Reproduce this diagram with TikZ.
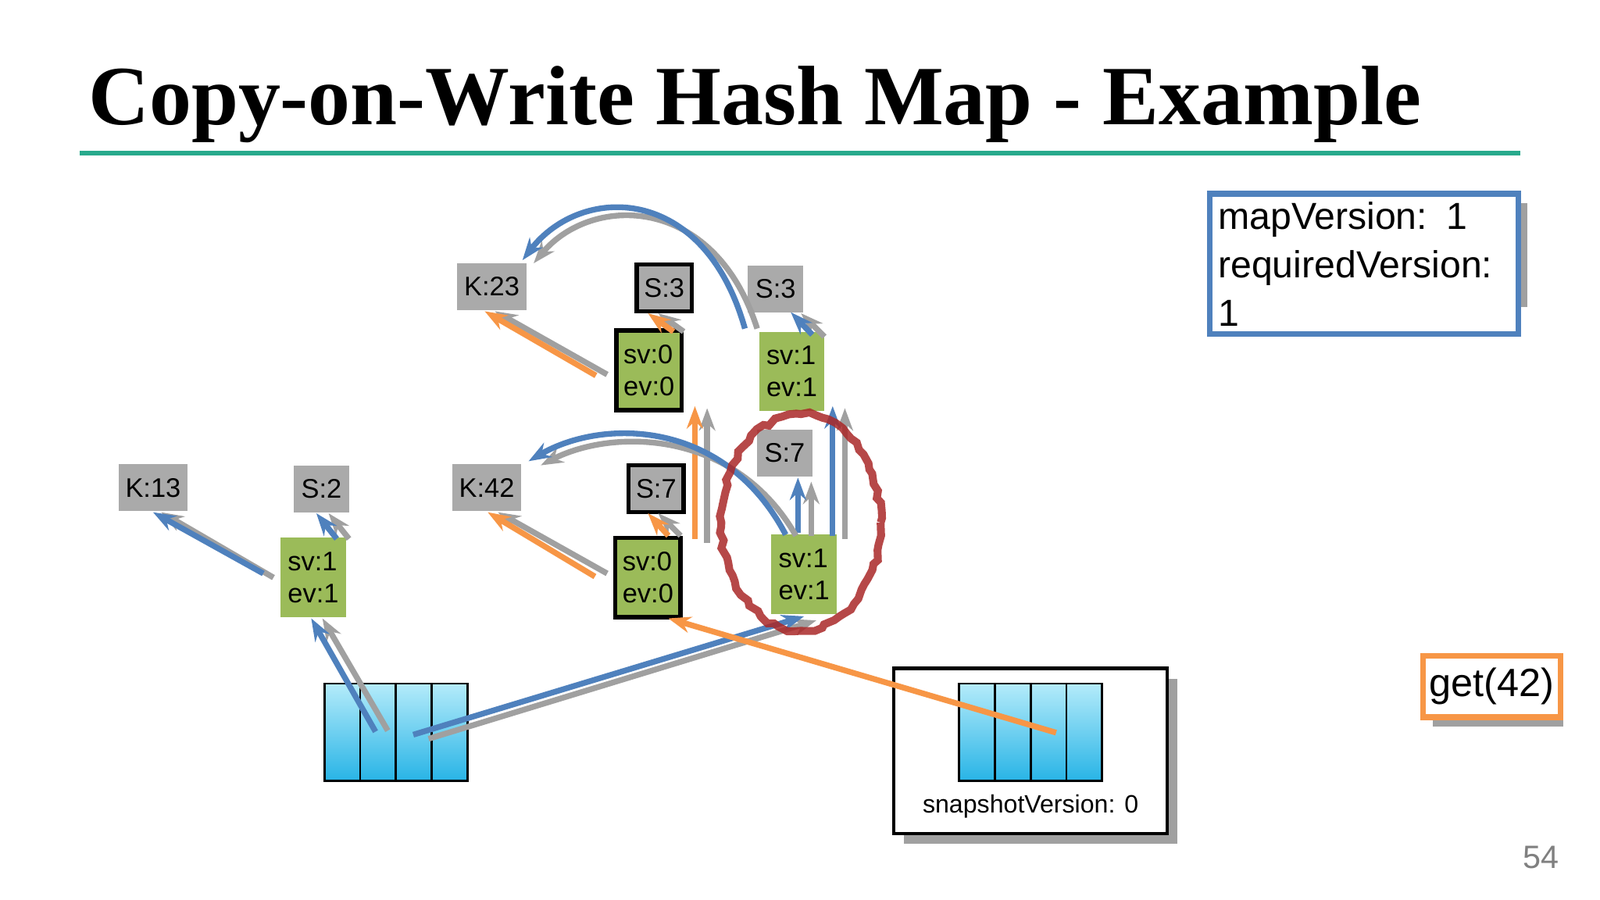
\documentclass[tikz,border=0pt]{standalone}
\usepackage{fontspec}
\setmainfont{Liberation Sans}
\newfontfamily\titlefont{Liberation Serif}
\usetikzlibrary{calc,arrows.meta,decorations.pathmorphing}
\definecolor{ggreen}{RGB}{155,187,89}
\definecolor{gboxc}{RGB}{170,170,170}
\definecolor{bl}{RGB}{79,129,189}
\definecolor{org}{RGB}{247,150,70}
\definecolor{gl}{RGB}{160,160,160}
\definecolor{teal1}{RGB}{40,170,140}
\definecolor{cyL}{RGB}{180,235,250}
\definecolor{cyD}{RGB}{40,180,230}
\definecolor{dred}{RGB}{170,40,40}
\begin{document}
\begin{tikzpicture}[x=0.1mm,y=-0.1mm,
  lab/.style={font=\fontsize{7.5pt}{9pt}\selectfont,inner sep=0pt,align=left},
  gk/.style={lab,fill=gboxc,minimum width=6.8mm,minimum height=4.6mm},
  gs/.style={lab,fill=gboxc,minimum width=5.4mm,minimum height=4.6mm},
  gsb/.style={gs,draw=black,line width=1.2pt},
  gr/.style={lab,fill=ggreen,minimum width=6.4mm,minimum height=7.8mm},
  grb/.style={gr,draw=black,line width=1.2pt},
  ba/.style={draw=bl,line width=1.6pt,-{Stealth[length=2.2mm,width=1.6mm]}},
  ga/.style={draw=gl,line width=1.6pt,-{Stealth[length=2.2mm,width=1.6mm]}},
  oa/.style={draw=org,line width=1.6pt,-{Stealth[length=2.2mm,width=1.6mm]}},
  arr/.style={top color=cyL,bottom color=cyD,draw=black,line width=0.6pt}]
\useasboundingbox (0,0) rectangle (1568,882);
\fill[white] (0,0) rectangle (1568,882);
% title
\node[anchor=base west,inner sep=0pt,font=\titlefont\bfseries\fontsize{23.5pt}{27pt}\selectfont] (title) at (86,122) {Copy-on-Write Hash Map - Example};
\draw[teal1,line width=1.4pt] (78,150) -- (1490,150);
% version box
\fill[gl] (1195,199) rectangle (1497,301);
\node[draw=bl,line width=1.6pt,fill=white,anchor=north west,minimum width=30.2mm,minimum height=10.2mm,text width=28.6mm,inner sep=0.8mm,align=left,font=\fontsize{10.5pt}{13.5pt}\selectfont] (ver) at (1183,187) {mapVersion: 1\\requiredVersion: 1};
% boxes
\node[gk] (k23) at (482,281) {K:23};
\node[gsb] (s3a) at (651,282) {S:3};
\node[gs] (s3b) at (760,283) {S:3};
\node[grb] (g1) at (636,363) {sv:0\\ev:0};
\node[gr] (g2) at (776,364) {sv:1\\ev:1};
\node[gk] (k13) at (150,478) {K:13};
\node[gs] (s2) at (315,479) {S:2};
\node[gk] (k42) at (477,478) {K:42};
\node[gsb] (s7a) at (643,479) {S:7};
\node[gs] (s7b) at (769,444) {S:7};
\node[gr] (g3) at (307,566) {sv:1\\ev:1};
\node[grb] (g4) at (635,566) {sv:0\\ev:0};
\node[gr] (g5) at (788,563) {sv:1\\ev:1};
% left array
\foreach \i in {0,1,2,3}{\draw[arr] (318+35*\i,670) rectangle (353+35*\i,765);}
% snapshot box
\fill[gl] (886,665) rectangle (1154,827);
\node[draw=black,line width=1pt,fill=white,anchor=north west,minimum width=26.8mm,minimum height=16.2mm] (snap) at (874,653) {};
\foreach \i in {0,1,2,3}{\draw[arr] (940+35*\i,670) rectangle (975+35*\i,765);}
\node[font=\fontsize{7pt}{9pt}\selectfont] (snapt) at (1010,790) {snapshotVersion: 0};
% get box
\fill[gl] (1404,652) rectangle (1532,712);
\node[draw=org,line width=1.6pt,fill=white,anchor=north west,minimum width=12.8mm,minimum height=6mm,inner sep=0.6mm,font=\fontsize{11pt}{13pt}\selectfont] (get) at (1392,640) {get(42)};
\node[text=gray,font=\fontsize{9pt}{11pt}\selectfont] (pg) at (1510,840) {54};
% arrows
\draw[ga] (268,566) -- (158,502);
\draw[ba] (258,562) -- (150,502);
\draw[ga] (342,528) -- (322,503);
\draw[ba] (330,528) -- (310,503);
\draw[ga] (380,716) -- (316,606);
\draw[ba] (368,717) -- (305,606);
\draw[ga] (420,724) -- (800,608);
\draw[ba] (405,720) -- (788,604);
\draw[ga] (595,562) -- (488,502);
\draw[oa] (583,565) -- (478,502);
\draw[ga] (667,525) -- (645,503);
\draw[oa] (655,525) -- (635,503);
\draw[ga] (693,532) -- (693,400);
\draw[oa] (681,528) -- (681,398);
\draw[ga] (595,367) -- (485,305);
\draw[oa] (584,368) -- (475,305);
\draw[ga] (670,325) -- (645,307);
\draw[oa] (660,325) -- (635,307);
\draw[ga] (808,330) -- (785,307);
\draw[ba] (796,328) -- (775,306);
\draw[ga] (742,322) .. controls (700,190) and (580,190) .. (523,258);
\draw[ba] (730,322) .. controls (690,180) and (570,180) .. (512,255);
\draw[ga] (795,525) -- (795,472);
\draw[ba] (782,522) -- (782,468);
\draw[ga] (780,525) .. controls (720,420) and (600,420) .. (530,456);
\draw[ba] (770,524) .. controls (710,410) and (590,410) .. (518,452);
\draw[ga] (828,528) -- (828,400);
\draw[ba] (816,525) -- (816,398);
\draw[oa] (1035,718) -- (655,606);
% circle
\draw[dred,line width=2.2pt,decorate,decoration={random steps,segment length=2pt,amplitude=0.6pt},opacity=0.85] (785,512) ellipse [x radius=78,y radius=106];
\end{tikzpicture}
\end{document}
